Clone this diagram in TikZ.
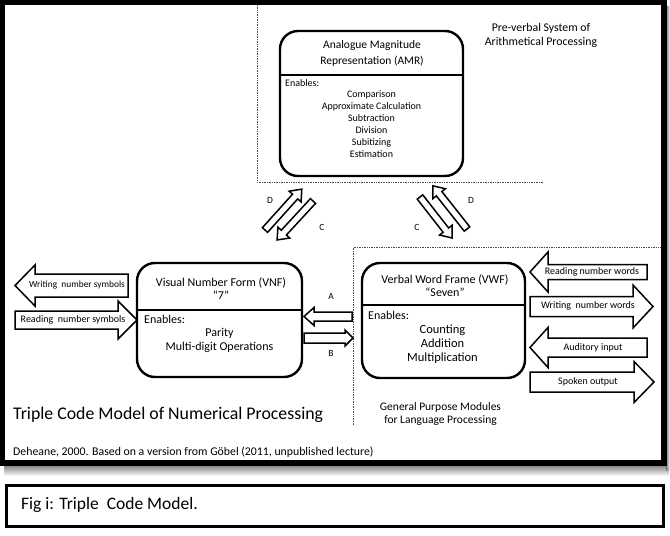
\documentclass[tikz,border=0pt]{standalone}
\usepackage{fontspec}
\setmainfont{Carlito}
\usetikzlibrary{calc}
\tikzset{
  rbox/.style={draw, line width=2.4pt, rounded corners=18pt, fill=white},
  divider/.style={line width=2.4pt},
  dotline/.style={densely dotted, line width=0.7pt, black!70},
  arrowshape/.style={draw, line width=1.5pt, fill=white, line join=miter},
  lbl/.style={inner sep=0pt, font=\fontsize{9.5}{11}\selectfont},
  albl/.style={inner sep=0pt, font=\fontsize{10}{11}\selectfont},
  pics/barr/.style args={#1/#2/#3/#4}{code={
    \path[arrowshape] (0,-#2) -- (#1-#4,-#2) -- (#1-#4,-#3) -- (#1,0) -- (#1-#4,#3) -- (#1-#4,#2) -- (0,#2) -- cycle;
  }}
}
\begin{document}
\begin{tikzpicture}[x=1pt,y=-1pt]
\useasboundingbox (0,0) rectangle (670,536);
\fill[white] (0,0) rectangle (670,536);
% shadow and outer frame
\shade[top color=black!55, bottom color=white] (4,464) rectangle (669,476);
\shade[left color=black!55, right color=white] (666,6) rectangle (670,470);
\fill[black] (0,0) rectangle (667,466);
\fill[white] (5,5) rectangle (661,460);

% dotted regions
\coordinate (p1) at (257,5);
\coordinate (p2) at (257,182);
\coordinate (p3) at (544,182);
\draw[dotline] (p1) -- (p2) -- (p3);
\coordinate (q1) at (353,425);
\coordinate (q2) at (353,247);
\coordinate (q3) at (661,247);
\draw[dotline] (q1) -- (q2) -- (q3);

% AMR box
\node[rbox, minimum width=183, minimum height=145] (amr) at (371.5,103.5) {};
\coordinate (amrd) at (0,75);
\draw[divider] (amr.west |- amrd) -- (amr.east |- amrd);
\node[lbl, font=\fontsize{11.5}{16}\selectfont, align=center] (amrt) at (372,53.5) {Analogue Magnitude\\Representation (AMR)};
\node[lbl, anchor=west, font=\fontsize{10}{12}\selectfont] (amre) at (285,83.5) {Enables:};
\node[lbl, font=\fontsize{10}{12}\selectfont, align=center, anchor=north] (amrl) at (371.5,90.5) {Comparison\\Approximate Calculation\\Subtraction\\Division\\Subitizing\\Estimation};
\node[lbl, align=center, font=\fontsize{11.8}{13.5}\selectfont] (pre) at (541,35.5) {Pre-verbal System of\\Arithmetical Processing};

% VNF box
\node[rbox, minimum width=165, minimum height=114] (vnf) at (219.5,320) {};
\coordinate (vnfd) at (0,310);
\draw[divider] (vnf.west |- vnfd) -- (vnf.east |- vnfd);
\node[lbl, font=\fontsize{12}{13.5}\selectfont, align=center] (vnft) at (221,288.5) {Visual Number Form (VNF)\\“7”};
\node[lbl, anchor=west, font=\fontsize{12}{13}\selectfont] (vnfe) at (144,319.5) {Enables:};
\node[lbl, font=\fontsize{12}{14}\selectfont, align=center] (vnfl) at (219.5,340) {Parity\\Multi-digit Operations};

% VWF box
\node[rbox, minimum width=163, minimum height=115] (vwf) at (443.5,320.5) {};
\coordinate (vwfd) at (0,305);
\draw[divider] (vwf.west |- vwfd) -- (vwf.east |- vwfd);
\node[lbl, font=\fontsize{12}{13.5}\selectfont, align=center] (vwft) at (445,285.5) {Verbal Word Frame (VWF)\\“Seven”};
\node[lbl, anchor=west, font=\fontsize{12}{13}\selectfont] (vwfe) at (368,315.5) {Enables:};
\node[lbl, font=\fontsize{12.5}{14}\selectfont, align=center] (vwfl) at (442.5,344) {Counting\\Addition\\Multiplication};
\node[lbl, align=center, font=\fontsize{11.5}{13.5}\selectfont] (gpm) at (440.5,414) {General Purpose Modules\\for Language Processing};

% left block arrows
\pic[rotate=180] at (128,285.5) {barr=113/11.5/20.5/20};
\node[albl, font=\fontsize{9.4}{11}\selectfont] (wns) at (77,285.5) {Writing\ \ number symbols};
\pic at (15,320) {barr=122/9/19/19};
\node[albl] (rns) at (73,320) {Reading\ \ number symbols};

% A / B arrows
\pic[rotate=180] at (352,316.5) {barr=48/4.5/9/10};
\pic at (304,338) {barr=49/5/8/8};
\node[lbl] (la) at (331,296.5) {A};
\node[lbl] (lb) at (331,353.5) {B};

% right block arrows
\pic[rotate=180] at (647,272) {barr=117/7.5/20/18};
\node[albl] (rnw) at (592,272) {Reading number words};
\pic at (530,306.5) {barr=123/10/21.5/20};
\node[albl] (wnw) at (588,305.5) {Writing\ \ number words};
\pic[rotate=180] at (647,347.5) {barr=117/9.5/20/18};
\node[albl] (aud) at (593,347.5) {Auditory input};
\pic at (530,382) {barr=124/10/20.5/20};
\node[albl] (spo) at (588,381.5) {Spoken output};

% C / D diagonal arrows
\pic[rotate=48] at (265,230) {barr=55/3.5/8/10};
\pic[rotate=227.3] at (313,201) {barr=53/3.5/8/10};
\pic[rotate=128.3] at (467,229) {barr=55/3.5/8/10};
\pic[rotate=-52] at (420,197) {barr=52/3.5/8/10};
\node[lbl] (ld1) at (270,200) {D};
\node[lbl] (lc1) at (322,227) {C};
\node[lbl] (lc2) at (417,227) {C};
\node[lbl] (ld2) at (471,200) {D};

% titles
\node[lbl, anchor=west, font=\fontsize{17.8}{20}\selectfont] (title) at (13,415) {Triple Code Model of Numerical Processing};
\node[lbl, anchor=west, font=\fontsize{11.8}{13}\selectfont] (cite) at (13,452) {Deheane, 2000. Based on a version from Göbel (2011, unpublished lecture)};

% caption box
\node[draw, line width=3pt, minimum width=657, minimum height=41, inner sep=0pt] (capbox) at (335,505.5) {};
\node[lbl, anchor=west, font=\fontsize{17.5}{20}\selectfont] (cap) at (21,505) {Fig i: Triple\ \ Code Model.};
\end{tikzpicture}
\end{document}
